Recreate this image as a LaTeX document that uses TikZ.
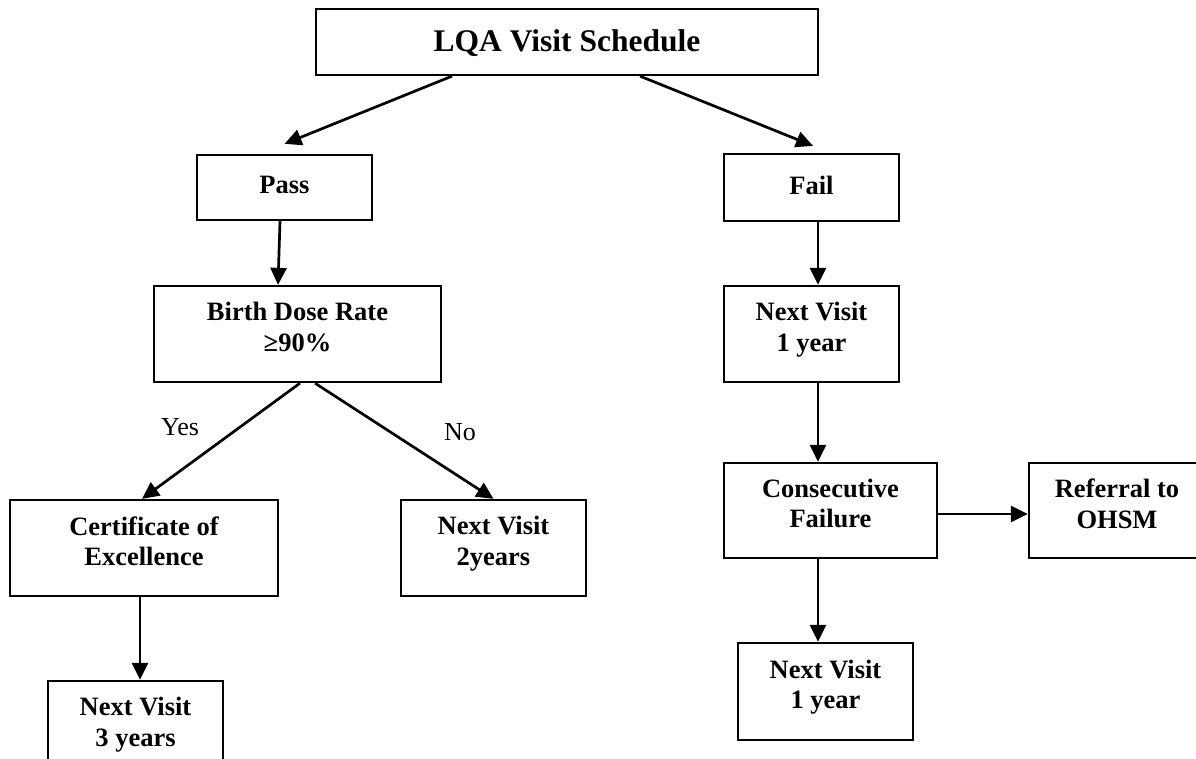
\documentclass[tikz,border=0pt]{standalone}
\usepackage{fontspec}
\setmainfont{Liberation Serif}
\usetikzlibrary{arrows.meta}
\begin{document}
\begin{tikzpicture}[x=1pt,y=-1pt,
  box/.style={draw=black,line width=2.3pt,rectangle,inner sep=0pt,align=center,
    text depth=14pt,
    font=\fontsize{26.5}{30.5}\selectfont\bfseries},
  arr/.style={line width=2.7pt,-{Triangle[length=17pt,width=16pt]}},
  lbl/.style={font=\fontsize{26}{30}\selectfont}]
\useasboundingbox (0,0) rectangle (1196,759);
\clip (0,0) rectangle (1196,759);
\node[box,minimum width=502pt,minimum height=66pt,text depth=2pt,font=\fontsize{31.5}{36}\selectfont\bfseries] (lqa) at (567,42) {LQA Visit Schedule};
\node[box,minimum width=175pt,minimum height=65pt,text depth=5pt] (pass) at (284.5,187.5) {Pass};
\node[box,minimum width=175pt,minimum height=67pt,text depth=5pt] (fail) at (811.5,187.5) {Fail};
\node[box,minimum width=287pt,minimum height=96pt] (birth) at (297.5,334) {Birth Dose Rate\\≥90\%};
\node[box,minimum width=175pt,minimum height=96pt] (nv1) at (811.5,334) {Next Visit\\1 year};
\node[box,minimum width=268pt,minimum height=96pt] (cert) at (144,548) {Certificate of\\Excellence};
\node[box,minimum width=185pt,minimum height=96pt] (nv2) at (493.5,548) {Next Visit\\2years};
\node[box,minimum width=213pt,minimum height=95pt] (consec) at (830.5,510.5) {Consecutive\\Failure};
\node[box,minimum width=176pt,minimum height=95pt] (ref) at (1117,510.5) {Referral to\\OHSM};
\node[box,minimum width=175pt,minimum height=97pt] (nvb) at (825.5,691.5) {Next Visit\\1 year};
\node[box,minimum width=175pt,minimum height=96pt] (nv3) at (135.5,729) {Next Visit\\3 years};
\node[lbl] (yes) at (180,427) {Yes};
\node[lbl] (no) at (460,432) {No};
\draw[arr] ([xshift=-115pt]lqa.south) -- ([yshift=10pt]pass.north);
\draw[arr] ([xshift=73pt]lqa.south) -- ([xshift=1.5pt,yshift=7pt]fail.north);
\draw[arr] ([xshift=-4.5pt]pass.south) -- ([xshift=-19.5pt]birth.north);
\draw[arr] ([xshift=2.5pt]birth.south) -- ([xshift=-2pt]cert.north);
\draw[arr] ([xshift=17.5pt]birth.south) -- (nv2.north);
\draw[arr] ([xshift=6.5pt]fail.south) -- ([xshift=6.5pt]nv1.north);
\draw[arr] ([xshift=6.5pt]nv1.south) -- ([xshift=-12.5pt]consec.north);
\draw[arr] ([yshift=-3.5pt]consec.east) -- ([yshift=-3.5pt]ref.west);
\draw[arr] ([xshift=-12.5pt]consec.south) -- ([xshift=-7.5pt]nvb.north);
\draw[arr] ([xshift=-4pt]cert.south) -- ([xshift=4.5pt]nv3.north);
\end{tikzpicture}
\end{document}
